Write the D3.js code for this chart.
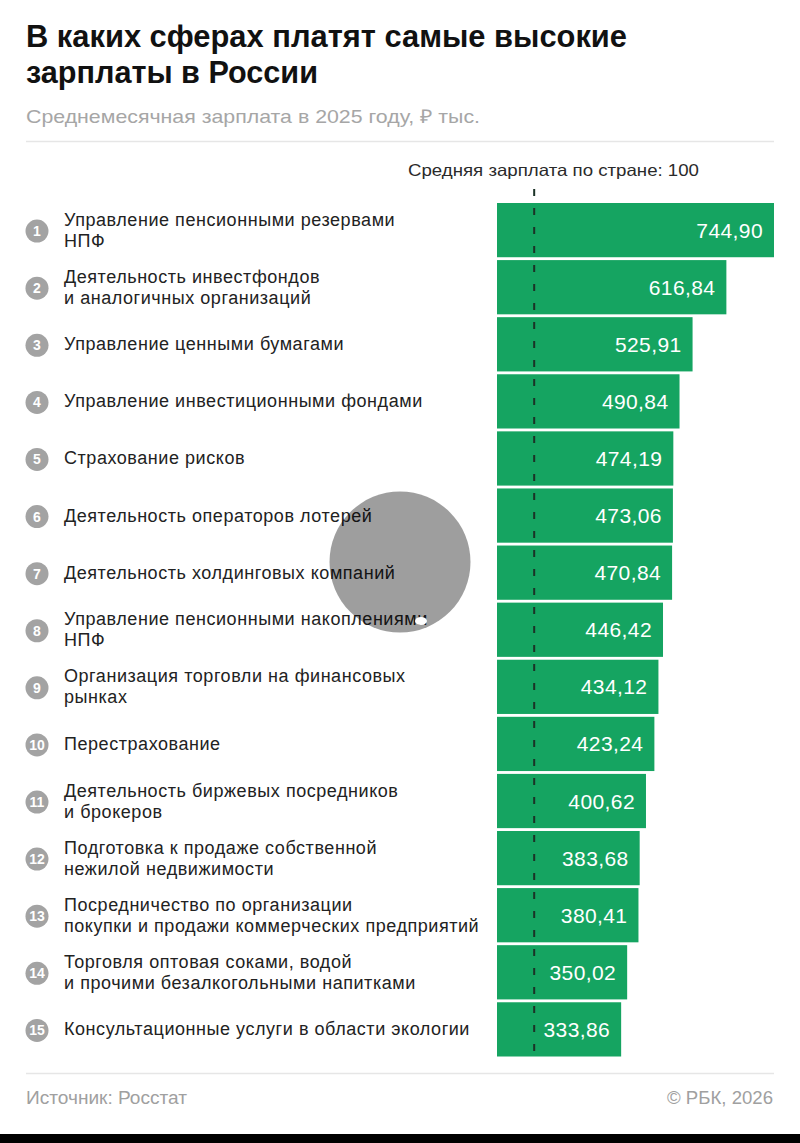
<!DOCTYPE html>
<html>
<head>
<meta charset="utf-8">
<script src="https://cdn.jsdelivr.net/npm/d3@7"></script>
<style>
  html, body { margin: 0; padding: 0; background: #fff; }
  svg { display: block; }
  text { font-family: "Liberation Sans", Arial, sans-serif; }
</style>
</head>
<body>
<svg id="chart" width="800" height="1143"></svg>
<script>
const titleLines = ["В каких сферах платят самые высокие", "зарплаты в России"];
const subtitle = "Среднемесячная зарплата в 2025 году, ₽ тыс.";
const refLabel = "Средняя зарплата по стране: 100";
const refValue = 100;
const source = "Источник: Росстат";
const credit = "© РБК, 2026";

const ranks = [1, 2, 3, 4, 5, 6, 7, 8, 9, 10, 11, 12, 13, 14, 15];
const categories = [
  "Управление пенсионными резервами\nНПФ",
  "Деятельность инвестфондов\nи аналогичных организаций",
  "Управление ценными бумагами",
  "Управление инвестиционными фондами",
  "Страхование рисков",
  "Деятельность операторов лотерей",
  "Деятельность холдинговых компаний",
  "Управление пенсионными накоплениями\nНПФ",
  "Организация торговли на финансовых\nрынках",
  "Перестрахование",
  "Деятельность биржевых посредников\nи брокеров",
  "Подготовка к продаже собственной\nнежилой недвижимости",
  "Посредничество по организации\nпокупки и продажи коммерческих предприятий",
  "Торговля оптовая соками, водой\nи прочими безалкогольными напитками",
  "Консультационные услуги в области экологии"
];
const values = [744.90, 616.84, 525.91, 490.84, 474.19, 473.06, 470.84, 446.42, 434.12, 423.24, 400.62, 383.68, 380.41, 350.02, 333.86];

const svg = d3.select("#chart");
const W = 800;

// Title
svg.selectAll("text.title").data(titleLines).join("text")
  .attr("class", "title")
  .attr("x", 26)
  .attr("y", (d, i) => 47 + i * 36)
  .attr("font-family", "Roboto, sans-serif")
  .attr("font-weight", 700)
  .attr("font-size", 31)
  .attr("fill", "#111")
  .attr("textLength", (d, i) => i === 0 ? 601 : 292)
  .attr("lengthAdjust", "spacingAndGlyphs")
  .text(d => d);

svg.append("text")
  .attr("x", 26).attr("y", 123)
  .attr("font-family", "Roboto, sans-serif")
  .attr("font-size", 19)
  .attr("fill", "#a6a6a6")
  .attr("textLength", 454)
  .attr("lengthAdjust", "spacingAndGlyphs")
  .text(subtitle);

svg.append("line")
  .attr("x1", 26).attr("x2", 774).attr("y1", 141.5).attr("y2", 141.5)
  .attr("stroke", "#e6e6e6").attr("stroke-width", 1.5);

// Scales
const x = d3.scaleLinear().domain([0, d3.max(values)]).range([497, 774]);
const y = d3.scaleBand().domain(categories).range([203, 203 + 15 * 56.9]).paddingInner(0.05).paddingOuter(0);

// Bars
const rows = svg.append("g").selectAll("g").data(categories).join("g");

rows.append("rect")
  .attr("x", x(0))
  .attr("y", d => y(d))
  .attr("width", (d, i) => x(values[i]) - x(0))
  .attr("height", y.bandwidth())
  .attr("fill", "#15a461");

// Reference line
const refX = x(refValue);
svg.append("line")
  .attr("x1", refX).attr("x2", refX)
  .attr("y1", 189).attr("y2", y(categories[14]) + y.bandwidth())
  .attr("stroke", "#1b3327").attr("stroke-width", 2)
  .attr("stroke-dasharray", "7 12");

svg.append("text")
  .attr("x", 408).attr("y", 176)
  .attr("font-size", 16.5)
  .attr("fill", "#2a2a2a")
  .attr("textLength", 291)
  .attr("lengthAdjust", "spacingAndGlyphs")
  .text(refLabel);

// Value labels
rows.append("text")
  .attr("x", (d, i) => x(values[i]) - 11)
  .attr("y", d => y(d) + y.bandwidth() / 2 + 7.5)
  .attr("text-anchor", "end")
  .attr("font-size", 21)
  .attr("letter-spacing", 0.4)
  .attr("fill", "#fff")
  .text((d, i) => values[i].toFixed(2).replace(".", ","));

// Rank circles
rows.append("circle")
  .attr("cx", 37)
  .attr("cy", d => y(d) + y.bandwidth() / 2 + 1)
  .attr("r", 11.5)
  .attr("fill", "#a3a3a3");

rows.append("text")
  .attr("x", 37)
  .attr("y", d => y(d) + y.bandwidth() / 2 + 6)
  .attr("text-anchor", "middle")
  .attr("font-size", 14)
  .attr("font-weight", 700)
  .attr("fill", "#fff")
  .text((d, i) => ranks[i]);

// Category labels
rows.append("text")
  .attr("x", 64)
  .attr("font-size", 18)
  .attr("letter-spacing", 0.55)
  .attr("fill", "#222")
  .each(function(d) {
    const lines = d.split("\n");
    const cy = y(d) + y.bandwidth() / 2;
    const t = d3.select(this);
    lines.forEach((ln, j) => {
      const off = lines.length === 1 ? 0 : (j === 0 ? -10.5 : 10.5);
      t.append("tspan").attr("x", 64).attr("y", cy + off + 6).text(ln);
    });
  });

// Footer
svg.append("line")
  .attr("x1", 26).attr("x2", 774).attr("y1", 1073.5).attr("y2", 1073.5)
  .attr("stroke", "#e6e6e6").attr("stroke-width", 1.5);

svg.append("text")
  .attr("x", 26).attr("y", 1104)
  .attr("font-size", 17.5)
  .attr("fill", "#a0a0a0")
  .attr("textLength", 161)
  .attr("lengthAdjust", "spacingAndGlyphs")
  .text(source);

svg.append("text")
  .attr("x", 667).attr("y", 1104)
  .attr("font-size", 17.5)
  .attr("fill", "#a0a0a0")
  .attr("textLength", 106)
  .attr("lengthAdjust", "spacingAndGlyphs")
  .text(credit);

// Touch indicator overlay seen in the screenshot
svg.append("circle")
  .attr("cx", 400).attr("cy", 562).attr("r", 70.5)
  .attr("fill", "#000").attr("fill-opacity", 0.38);
svg.append("ellipse")
  .attr("cx", 421).attr("cy", 621).attr("rx", 6).attr("ry", 4)
  .attr("fill", "#fff");

// Bottom black strip
svg.append("rect")
  .attr("x", 0).attr("y", 1134).attr("width", W).attr("height", 9)
  .attr("fill", "#000");
</script>
</body>
</html>
